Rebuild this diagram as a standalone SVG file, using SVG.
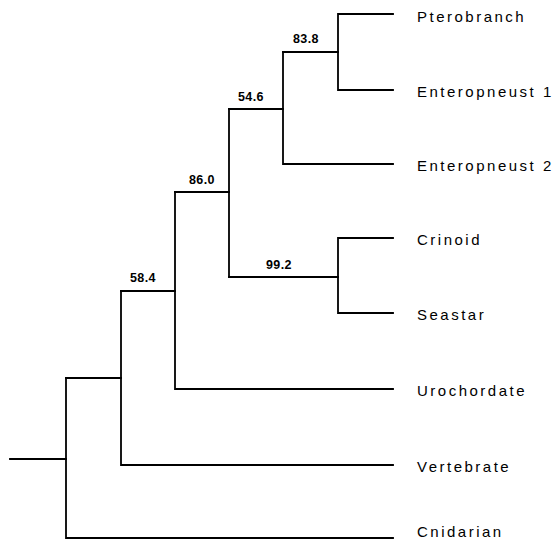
<svg xmlns="http://www.w3.org/2000/svg" width="556" height="540" viewBox="0 0 556 540">
<style>
.br{fill:none;stroke:#000;stroke-width:1.8;stroke-linecap:square}
.tip{font-family:"Liberation Sans",Arial,sans-serif;font-size:15px;letter-spacing:2.5px;fill:#000}
.sup{font-family:"Liberation Sans",Arial,sans-serif;font-size:12.5px;font-weight:bold;letter-spacing:0.4px;fill:#000}
</style>
<rect width="556" height="540" fill="#fff"/>
<g id="connectors">
<path class="br" d="M393,14 H338 V90 H393"/>
<path class="br" d="M283,52 H338"/>
<path class="br" d="M393,238 H338 V313 H393"/>
<path class="br" d="M229,277 H338"/>
<path class="br" d="M283,52 V164 H393"/>
<path class="br" d="M229,109 H283"/>
<path class="br" d="M229,109 V277"/>
<path class="br" d="M175,192 H229"/>
<path class="br" d="M175,192 V389 H393"/>
<path class="br" d="M121,291 H175"/>
<path class="br" d="M121,291 V465 H393"/>
<path class="br" d="M66,378 H121"/>
<path class="br" d="M66,378 V538 H393"/>
<path class="br" d="M10,459 H66"/>
</g>
<g id="node-pterobranch"><text class="tip" x="417" y="22">Pterobranch</text></g>
<g id="node-enteropneust1"><text class="tip" x="417" y="97">Enteropneust 1</text></g>
<g id="node-enteropneust2"><text class="tip" x="417" y="171">Enteropneust 2</text></g>
<g id="node-crinoid"><text class="tip" x="417" y="245">Crinoid</text></g>
<g id="node-seastar"><text class="tip" x="417" y="320">Seastar</text></g>
<g id="node-urochordate"><text class="tip" x="417" y="396">Urochordate</text></g>
<g id="node-vertebrate"><text class="tip" x="417" y="472">Vertebrate</text></g>
<g id="node-cnidarian"><text class="tip" x="417" y="537">Cnidarian</text></g>
<g id="node-83-8"><text class="sup" x="293" y="43">83.8</text></g>
<g id="node-54-6"><text class="sup" x="238" y="101">54.6</text></g>
<g id="node-86-0"><text class="sup" x="189" y="184">86.0</text></g>
<g id="node-58-4"><text class="sup" x="130" y="282">58.4</text></g>
<g id="node-99-2"><text class="sup" x="266" y="269">99.2</text></g>
</svg>
